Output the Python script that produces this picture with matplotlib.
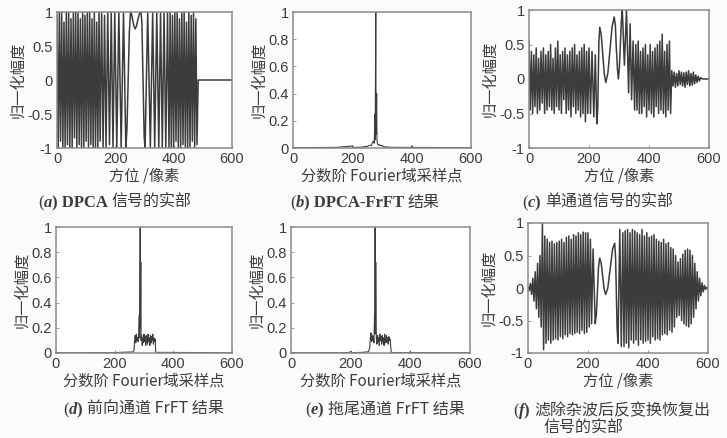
import matplotlib
matplotlib.use('Agg')
import matplotlib.pyplot as plt
import numpy as np

# ---- data (turning points of each trace) ----
# (a) DPCA signal, real part
a_left_start, a_left_step = 0, 4
a_left_y = [0.95, -1, 1, -0.9, 1, -1, 0.85, -1, 1, -0.95, 1, -1, 0.9, -1, 1, -0.85, 1, -1, 1, -0.95,
            0.9, -1, 1, -1, 0.95, -0.9, 1, -1, 1, -0.95, 0.9, -1, 1, -1, 0.85, -1, 1, -0.9]
a_mid_x = [153, 158, 163, 168, 174, 180, 186, 192, 198, 205, 212, 220, 228, 236, 240, 244, 248, 252,
           256, 260, 264, 268, 272, 278, 283, 288, 291, 295, 299, 302,
           311, 320, 328, 335, 342, 349, 355, 361, 367, 373, 379, 384]
a_mid_y = [1, -1, 0.95, -1, 1, -0.95, 1, -1, 1, -1, 1, -1, 1, -1, -0.7, 0, 0.7, 1,
           0.96, 0.87, 0.79, 0.75, 0.79, 0.9, 0.98, 1, 0.85, 0, -0.85, -1,
           1, -1, 1, -1, 1, -1, 1, -1, 1, -1, 1, -1]
a_right_start, a_right_step = 388, 4
a_right_y = [1, -1, 0.95, -1, 1, -0.9, 1, -1, 0.9, -1, 1, -0.95, 1, -1, 0.85, -1, 1, -1, 0.95, -0.9,
             1, -1, 0.9, -0.95]
a_tail_x = [484, 600]
a_tail_y = [0, 0]

# (b) DPCA-FrFT
b_x = [0, 120, 150, 200, 205, 230, 250, 258, 264, 268, 271, 274, 276, 277, 279, 280, 282, 283, 285,
       288, 292, 296, 300, 305, 312, 330, 398, 400, 402, 600]
b_y = [0.003, 0.004, 0.005, 0.015, 0.004, 0.006, 0.012, 0.02, 0.018, 0.04, 0.05, 0.035, 0.25, 0.06,
       1.0, 0.1, 0.4, 0.06, 0.03, 0.02, 0.025, 0.015, 0.02, 0.01, 0.008, 0.005, 0.004, 0.015, 0.004, 0.003]

# (c) single channel signal, real part
c_left_start, c_left_step = 0, 4
c_left_y = [0.55, -0.45, 0.4, -0.5, 0.35, -0.4, 0.45, -0.5, 0.3, -0.45, 0.4, -0.35, 0.45, -0.5, 0.35,
            -0.45, 0.4, -0.4, 0.5, -0.45, 0.3, -0.5, 0.45, -0.4, 0.55, -0.45, 0.35, -0.5, 0.4, -0.3,
            0.45, -0.5, 0.35, -0.45, 0.4, -0.55, 0.45, -0.4, 0.5, -0.5, 0.35, -0.45, 0.4, -0.55, 0.45,
            -0.5, 0.5, -0.62, 0.4, -0.5, 0.45]
c_mid_x = [205, 210, 216, 221, 226, 229, 231, 233, 236, 241, 246, 251, 256, 263, 270, 277, 284,
           288, 291, 295, 298, 301, 304.5, 308, 311, 318, 325, 332, 337, 342, 347, 352]
c_mid_y = [-0.5, 0.4, -0.55, 0.35, -0.65, -0.45, 0.05, 0.55, 0.75, 0.63, 0.35, 0.07, -0.05, 0.09,
           0.43, 0.76, 0.9, 0.77, 0.45, 0.13, 0.0, 0.15, 0.5, 0.85, 1.0, 0.2, 1.0, -0.2, 0.8, -0.3,
           0.55, -0.45]
c_right_start, c_right_step = 356, 4
c_right_y = [0.5, -0.45, 0.55, -0.5, 0.4, -0.5, 0.45, -0.4, 0.5, -0.55, 0.35, -0.45, 0.5, -0.5, 0.4,
             -0.55, 0.45, -0.4, 0.5, -0.5, 0.55, -0.45, 0.65, -0.5, 0.4, -0.55, 0.5, -0.45, 0.55, -0.5]
c_tail_start, c_tail_step = 476, 4
c_tail_y = [0.12, -0.1, 0.1, -0.12, 0.08, -0.1, 0.12, -0.08, 0.1, -0.1, 0.09, -0.12, 0.1, -0.08, 0.12,
            -0.1, 0.08, -0.09, 0.1, -0.07, 0.06, -0.05, 0.04, -0.03, 0.02]
c_end_x = [578, 600]
c_end_y = [0, 0]

# (d) front channel FrFT
d_x = [0, 190, 230, 262, 266, 268, 270, 272, 274, 276, 278, 280, 282, 284, 285, 287, 288, 289, 290,
       292, 294, 296, 298, 300, 302, 304, 306, 308, 310, 312, 314, 316, 318, 320, 322, 324, 326, 328,
       330, 332, 334, 336, 338, 340, 600]
d_y = [0.002, 0.003, 0.006, 0.008, 0.02, 0.1, 0.14, 0.08, 0.15, 0.1, 0.12, 0.09, 0.16, 0.3, 0.12, 1.0,
       0.2, 0.72, 0.1, 0.14, 0.06, 0.12, 0.08, 0.15, 0.09, 0.13, 0.06, 0.14, 0.1, 0.07, 0.15, 0.09,
       0.12, 0.06, 0.14, 0.08, 0.13, 0.1, 0.15, 0.07, 0.12, 0.09, 0.11, 0.005, 0.002]

# (e) rear channel FrFT
e_x = [0, 195, 200, 205, 240, 260, 264, 266, 268, 270, 272, 274, 276, 278, 280, 281, 282, 283, 284,
       286, 288, 290, 292, 294, 296, 298, 300, 302, 304, 306, 308, 310, 312, 314, 316, 318, 320, 322,
       324, 326, 328, 330, 332, 334, 336, 398, 400, 402, 600]
e_y = [0.002, 0.003, 0.012, 0.003, 0.005, 0.01, 0.04, 0.12, 0.16, 0.09, 0.14, 0.1, 0.13, 0.08, 0.3,
       0.15, 1.0, 0.2, 0.72, 0.12, 0.07, 0.14, 0.09, 0.12, 0.06, 0.15, 0.1, 0.13, 0.07, 0.14, 0.09,
       0.12, 0.06, 0.15, 0.1, 0.08, 0.14, 0.09, 0.12, 0.07, 0.13, 0.1, 0.11, 0.06, 0.004, 0.003,
       0.012, 0.003, 0.002]

# (f) recovered signal after clutter removal
f_left_start, f_left_step = 0, 4
f_left_y = [0.02, -0.04, 0.07, -0.1, 0.15, -0.2, 0.25, -0.32, 0.38, -0.45, 0.5, -0.6, 1.0, -0.95, 0.8,
            -0.85, 0.75, -0.8, 0.7, -0.85, 0.72, -0.8, 0.68, -0.78, 0.7, -0.8, 0.72, -0.75, 0.75, -0.78,
            0.7, -0.72, 0.78, -0.75, 0.8, -0.7, 0.75, -0.72, 0.82, -0.7, 0.8, -0.68, 0.85, -0.7, 0.82,
            -0.65, 0.86, -0.7, 0.85, -0.68, 0.85, -0.6, 0.75, -0.55]
f_mid_x = [217, 224, 228, 231.5, 235, 239, 244, 249, 254, 259, 266, 274, 282, 289, 292, 294.5, 297,
           300, 306, 311, 316]
f_mid_y = [0.6, -0.55, -0.4, -0.05, 0.32, 0.46, 0.38, 0.18, -0.02, -0.1, 0.0, 0.3, 0.6, 0.69, 0.46,
           -0.08, -0.62, -0.85, 0.9, -0.9, 0.85]
f_right_start, f_right_step = 320, 4
f_right_y = [-0.9, 0.88, -0.85, 0.9, -0.92, 0.85, -0.8, 0.9, -0.85, 0.88, -0.8, 0.85, -0.88, 0.82, -0.8,
             0.9, -0.85, 0.8, -0.82, 0.85, -0.8, 0.78, -0.85, 0.8, -0.75, 0.82, -0.8, 0.75, -0.78, 0.72,
             -0.8, 0.7, -0.72, 0.75, -0.7, 0.68, -0.72, 0.7, -0.65, 0.62, -0.68, 0.6, -0.6, 0.5, -0.45]
f_tail_start, f_tail_step = 500, 4
f_tail_y = [0.4, -0.42, 0.45, -0.5, 0.52, -0.55, 0.58, -0.58, 0.6, -0.6, 0.58, -0.55, 0.5, -0.45, 0.38,
            -0.32, 0.25, -0.2, 0.15, -0.12, 0.08, -0.06, 0.04, -0.02, 0.01]
f_end_x = [600]
f_end_y = [0]

x_ticks = [0, 200, 400, 600]
sig_ticks = [-1, -0.5, 0, 0.5, 1]
mag_ticks = [0, 0.2, 0.4, 0.6, 0.8, 1]

ylabel = '归一化幅度'
xlabel_sig = '方位 /像素'
xlabel_mag = '分数阶 Fourier域采样点'

captions = [
    ('a', ' DPCA ', '信号的实部'),
    ('b', ' DPCA-FrFT ', '结果'),
    ('c', ' ', '单通道信号的实部'),
    ('d', ' ', '前向通道 FrFT 结果'),
    ('e', ' ', '拖尾通道 FrFT 结果'),
    ('f', ' ', '滤除杂波后反变换恢复出'),
]
caption_f_line2 = '信号的实部'


def run(start, step, vals):
    return start + step * np.arange(len(vals)), np.asarray(vals, dtype=float)


def join(*parts):
    xs = np.concatenate([np.asarray(p[0], dtype=float) for p in parts])
    ys = np.concatenate([np.asarray(p[1], dtype=float) for p in parts])
    return xs, ys


sig_a = join(run(a_left_start, a_left_step, a_left_y), (a_mid_x, a_mid_y),
             run(a_right_start, a_right_step, a_right_y), (a_tail_x, a_tail_y))
sig_c = join(run(c_left_start, c_left_step, c_left_y), (c_mid_x, c_mid_y),
             run(c_right_start, c_right_step, c_right_y), run(c_tail_start, c_tail_step, c_tail_y),
             (c_end_x, c_end_y))
sig_f = join(run(f_left_start, f_left_step, f_left_y), (f_mid_x, f_mid_y),
             run(f_right_start, f_right_step, f_right_y), run(f_tail_start, f_tail_step, f_tail_y),
             (f_end_x, f_end_y))

# ---- figure ----
W, H = 727, 438
LINE = '#3c3c3c'
FRAME = '#8a8a8a'
TXT = '#3c3c3c'
CJK = ['Noto Sans CJK SC', 'DejaVu Sans']
SERIF = ['Liberation Serif', 'Noto Sans CJK SC']

fig = plt.figure(figsize=(W / 100, H / 100), dpi=100)
fig.patch.set_facecolor('#fbfbfb')


def px_axes(left, top, right, bottom):
    return fig.add_axes([left / W, 1 - bottom / H, (right - left) / W, (bottom - top) / H])


def style(ax, yticks, ylim, xlabel):
    ax.set_facecolor('white')
    ax.set_xlim(0, 600)
    ax.set_ylim(*ylim)
    ax.set_xticks(x_ticks)
    ax.set_yticks(yticks)
    ax.set_yticklabels(['%g' % v for v in yticks])
    for s in ax.spines.values():
        s.set_color(FRAME)
        s.set_linewidth(1.1)
    ax.tick_params(direction='in', length=2.5, width=0.6, color=FRAME, labelcolor=TXT, pad=3)
    for lab in ax.get_xticklabels() + ax.get_yticklabels():
        lab.set_fontfamily('Liberation Sans')
        lab.set_fontsize(10.5)
    ax.set_xlabel(xlabel, family=CJK, fontsize=11, color=TXT, labelpad=1)
    ax.set_ylabel(ylabel, family=CJK, fontsize=11, color=TXT, labelpad=1)


panels = [
    # rect (px), data, yticks, ylim, xlabel, line width
    ((57, 12, 232, 148), sig_a, sig_ticks, (-1, 1), xlabel_sig, 1.1),
    ((293, 12, 471, 148), (b_x, b_y), mag_ticks, (0, 1), xlabel_mag, 0.8),
    ((529, 10, 709, 148), sig_c, sig_ticks, (-1, 1), xlabel_sig, 1.1),
    ((56, 227, 232, 353), (d_x, d_y), mag_ticks, (0, 1), xlabel_mag, 0.8),
    ((291, 227, 470, 353), (e_x, e_y), mag_ticks, (0, 1), xlabel_mag, 0.8),
    ((528, 223, 708, 353), sig_f, sig_ticks, (-1, 1), xlabel_sig, 1.1),
]

for rect, (xs, ys), yt, yl, xl, lw in panels:
    ax = px_axes(*rect)
    ax.plot(xs, ys, color=LINE, lw=lw)
    style(ax, yt, yl, xl)

# captions: "(" + italic letter + ")" + serif latin + CJK text, chained left to right
cap_pos = [(38, 203), (290, 203), (522, 203), (63, 410), (305, 410), (513, 411)]
for (letter, latin, cjk), (cx, cy) in zip(captions, cap_pos):
    t0 = fig.text(cx / W, 1 - cy / H, '(', family=SERIF, fontsize=12, color=TXT, va='center')
    t1 = fig.text(0, 0, letter, family=SERIF, style='italic', weight='bold', fontsize=12, color=TXT)
    t1.remove()
    t1 = plt.annotate(letter, xy=(1, 0), xycoords=t0, va='bottom', ha='left', family=SERIF,
                      style='italic', weight='bold', fontsize=12, color=TXT, annotation_clip=False)
    t2 = plt.annotate(')' + latin, xy=(1, 0), xycoords=t1, va='bottom', ha='left', family=SERIF,
                      weight='bold', fontsize=12, color=TXT, annotation_clip=False)
    plt.annotate(cjk, xy=(1, 0), xycoords=t2, va='bottom', ha='left', family=CJK,
                 fontsize=11.5, color=TXT, annotation_clip=False)

fig.text(543 / W, 1 - 428 / H, caption_f_line2, family=CJK, fontsize=11.5, color=TXT, va='center')

fig.savefig('out.png', dpi=100, facecolor=fig.get_facecolor())
